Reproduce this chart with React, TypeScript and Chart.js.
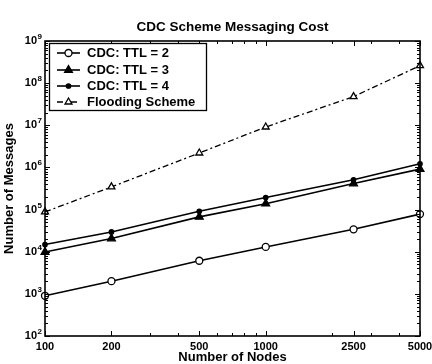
import React, { useEffect, useRef } from "react";
import { Chart, registerables } from "chart.js";

Chart.register(...registerables);

const NODES = [100, 200, 500, 1000, 2500, 5000];
const TTL2 = [900, 2000, 6100, 13000, 34000, 78000];
const TTL3 = [9800, 20500, 67000, 138000, 415000, 910000];
const TTL4 = [14800, 29500, 91000, 193000, 510000, 1220000];
const FLOODING = [88000, 345000, 2200000, 9100000, 48000000, 260000000];

const X_TICKS = [100, 200, 500, 1000, 2500, 5000];
const Y_TICKS = [1e2, 1e3, 1e4, 1e5, 1e6, 1e7, 1e8, 1e9];
const SERIES_LABELS = ["CDC: TTL = 2", "CDC: TTL = 3", "CDC: TTL = 4", "Flooding Scheme"];

const FONT = "'Liberation Sans', Arial, Helvetica, sans-serif";

const toPoints = (ys: number[]) => NODES.map((x, i) => ({ x, y: ys[i] }));

type Style = { pointStyle: any; radius: number; fill: string; dash: number[]; width: number };
const STYLES: Style[] = [
  { pointStyle: "circle", radius: 3.5, fill: "#ffffff", dash: [], width: 1.6 },
  { pointStyle: "triangle", radius: 4.5, fill: "#000000", dash: [], width: 1.6 },
  { pointStyle: "circle", radius: 2.2, fill: "#000000", dash: [], width: 1.6 },
  { pointStyle: "triangle", radius: 4, fill: "#ffffff", dash: [6, 3, 2, 3], width: 1.3 },
];

const axesBox = {
  id: "axesBox",
  afterDatasetsDraw(chart: any) {
    const { ctx, chartArea } = chart;
    const { left, right, top, bottom } = chartArea;
    const xs = chart.scales.x;
    const ys = chart.scales.y;
    ctx.save();
    ctx.strokeStyle = "#000";
    ctx.setLineDash([]);
    ctx.lineWidth = 1;
    const xTick = (v: number, len: number) => {
      const p = Math.round(xs.getPixelForValue(v)) + 0.5;
      ctx.beginPath();
      ctx.moveTo(p, bottom); ctx.lineTo(p, bottom - len);
      ctx.moveTo(p, top); ctx.lineTo(p, top + len);
      ctx.stroke();
    };
    const yTick = (v: number, len: number) => {
      const p = Math.round(ys.getPixelForValue(v)) + 0.5;
      ctx.beginPath();
      ctx.moveTo(left, p); ctx.lineTo(left + len, p);
      ctx.moveTo(right, p); ctx.lineTo(right - len, p);
      ctx.stroke();
    };
    for (const d of [100, 1000]) {
      for (let m = 1; m <= 9; m++) {
        const v = m * d;
        if (v < 100 || v > 5000) continue;
        if (X_TICKS.includes(v)) continue;
        xTick(v, 3);
      }
    }
    X_TICKS.forEach((v) => xTick(v, 5));
    for (let e = 2; e < 9; e++) {
      for (let m = 2; m <= 9; m++) yTick(m * Math.pow(10, e), 3);
    }
    Y_TICKS.forEach((v) => yTick(v, 5));
    ctx.lineWidth = 1.6;
    ctx.strokeRect(left, top, right - left, bottom - top);

    // exponents of the y tick labels
    ctx.fillStyle = "#000";
    ctx.font = `bold 8px ${FONT}`;
    ctx.textAlign = "left";
    ctx.textBaseline = "alphabetic";
    Y_TICKS.forEach((v) => {
      const p = ys.getPixelForValue(v);
      ctx.fillText(String(Math.round(Math.log10(v))), 37.5, p - 2);
    });
    ctx.restore();
  },
};

const boxLegend = {
  id: "boxLegend",
  afterDraw(chart: any) {
    const { ctx } = chart;
    const bx = 49.5, by = 43.5, bw = 157, bh = 67;
    ctx.save();
    ctx.fillStyle = "#fff";
    ctx.fillRect(bx, by, bw, bh);
    ctx.strokeStyle = "#000";
    ctx.lineWidth = 1.3;
    ctx.strokeRect(bx, by, bw, bh);
    const rows = [53, 70, 86, 102];
    chart.data.datasets.forEach((ds: any, i: number) => {
      const st = STYLES[i];
      const yy = rows[i];
      ctx.strokeStyle = "#000";
      ctx.lineWidth = st.width;
      ctx.setLineDash(st.dash);
      ctx.beginPath();
      ctx.moveTo(57, yy);
      ctx.lineTo(80, yy);
      ctx.stroke();
      ctx.setLineDash([]);
      ctx.lineWidth = 1.3;
      ctx.fillStyle = st.fill;
      ctx.beginPath();
      if (st.pointStyle === "circle") {
        ctx.arc(68.5, yy, st.radius, 0, Math.PI * 2);
      } else {
        const r = st.radius;
        ctx.moveTo(68.5, yy - r);
        ctx.lineTo(68.5 + r * 0.866, yy + r * 0.5);
        ctx.lineTo(68.5 - r * 0.866, yy + r * 0.5);
        ctx.closePath();
      }
      ctx.fill();
      ctx.stroke();
      ctx.fillStyle = "#000";
      ctx.font = `bold 13px ${FONT}`;
      ctx.textBaseline = "middle";
      ctx.textAlign = "left";
      ctx.fillText(ds.label, 87, yy + 0.5);
    });
    ctx.restore();
  },
};

export default function App() {
  const ref = useRef<HTMLCanvasElement>(null);
  useEffect(() => {
    if (!ref.current) return;
    const series = [TTL2, TTL3, TTL4, FLOODING];
    const chart = new Chart(ref.current, {
      type: "line",
      data: {
        datasets: series.map((s, i) => ({
          label: SERIES_LABELS[i],
          data: toPoints(s),
          borderColor: "#000",
          borderWidth: STYLES[i].width,
          borderDash: STYLES[i].dash,
          pointStyle: STYLES[i].pointStyle,
          pointRadius: STYLES[i].radius,
          pointBackgroundColor: STYLES[i].fill,
          pointBorderColor: "#000",
          pointBorderWidth: 1.3,
          fill: false,
          tension: 0,
        })),
      },
      options: {
        animation: false,
        responsive: false,
        devicePixelRatio: 1,
        clip: false as any,
        layout: { padding: { left: 0, right: 12, top: 0, bottom: 0 } },
        plugins: {
          legend: { display: false },
          tooltip: { enabled: false },
          title: {
            display: true,
            fullSize: false,
            text: "CDC Scheme Messaging Cost",
            color: "#000",
            font: { family: FONT, size: 13.5, weight: "bold" },
            padding: { top: 19, bottom: 5.8 },
          },
        },
        scales: {
          x: {
            type: "logarithmic",
            min: 100,
            max: 5000,
            grid: { display: false, drawTicks: false },
            border: { display: false },
            afterBuildTicks: (s: any) => { s.ticks = X_TICKS.map((v) => ({ value: v })); },
            afterFit: (s: any) => { s.height = 28; s.paddingLeft = 0; s.paddingRight = 0; },
            ticks: {
              color: "#000",
              padding: 4,
              maxRotation: 0,
              autoSkip: false,
              font: { family: FONT, size: 11, weight: "bold" },
              callback: (v: any) => String(v),
            },
            title: {
              display: true,
              text: "Number of Nodes",
              color: "#000",
              font: { family: FONT, size: 13, weight: "bold" },
              padding: { top: 0, bottom: -1.5 },
            },
          },
          y: {
            type: "logarithmic",
            min: 1e2,
            max: 1e9,
            grid: { display: false, drawTicks: false },
            border: { display: false },
            afterBuildTicks: (s: any) => { s.ticks = Y_TICKS.map((v) => ({ value: v })); },
            afterFit: (s: any) => { s.width = 45; s.paddingTop = 0; s.paddingBottom = 0; },
            ticks: {
              color: "#000",
              padding: 8,
              autoSkip: false,
              font: { family: FONT, size: 11, weight: "bold" },
              callback: () => "10",
            },
            title: {
              display: true,
              text: "Number of Messages",
              color: "#000",
              font: { family: FONT, size: 13, weight: "bold" },
              padding: { top: 2, bottom: 0 },
            },
          },
        },
      },
      plugins: [axesBox, boxLegend],
    });
    return () => chart.destroy();
  }, []);
  return (
    <div style={{ position: "absolute", left: 0, top: 0, width: 432, height: 364, background: "#fff" }}>
      <canvas ref={ref} width={432} height={364} style={{ width: 432, height: 364 }} />
    </div>
  );
}
